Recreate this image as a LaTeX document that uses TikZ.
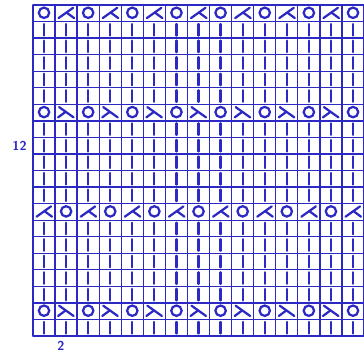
\documentclass[tikz,border=0pt]{standalone}
\usepackage{tikz}
\definecolor{chartblue}{RGB}{44,40,196}

\tikzset{
  knit/.pic={\draw[sym] (0,-5.8) -- (0,5.8);},
  yo/.pic={\draw[sym] (0,-0.5) circle[radius=5.2];},
  kl/.pic={\draw[sym] (7,-5.5) -- (-7.5,4.8); \draw[sym] (0.5,-0.7) -- (8,4.8);},
  kr/.pic={\draw[sym] (-7,-5.5) -- (7.5,4.8); \draw[sym] (-0.5,-0.7) -- (-8,4.8);}
}

\begin{document}
\begin{tikzpicture}[x=0.03cm, y=-0.03cm, line cap=round]
  \tikzstyle{gridline}=[chartblue, line width=1.1pt]
  \tikzstyle{sym}=[chartblue, line width=1.9pt]
  \tikzstyle{rowlabel}=[font=\sffamily\bfseries\fontsize{11}{12}\selectfont, text=chartblue, inner sep=0pt]
  \useasboundingbox (0,0) rectangle (364,353);
  % grid, 15 stitches x 20 rows
  \foreach \c in {0,...,15} \draw[gridline] ({33+22.07*\c},5) -- ({33+22.07*\c},336);
  \foreach \r in {0,...,20} \draw[gridline] (33,{5+16.55*\r}) -- (364,{5+16.55*\r});
  % knit rows
  \foreach \r in {1,2,3,4,5,7,8,9,10,11,13,14,15,16,17,19}
    \foreach \c in {0,...,14} \pic at ({44.03+22.07*\c},{13.28+16.55*\r}) {knit};
  % yarn overs
  \foreach \r in {0,6,18}
    \foreach \c in {0,2,...,14} \pic at ({44.03+22.07*\c},{13.28+16.55*\r}) {yo};
  \foreach \c in {1,3,...,13} \pic at ({44.03+22.07*\c},{13.28+16.55*12}) {yo};
  % decreases
  \foreach \c in {1,3,...,13} \pic at ({44.03+22.07*\c},13.28) {kl};
  \foreach \c in {0,2,...,14} \pic at ({44.03+22.07*\c},{13.28+16.55*12}) {kl};
  \foreach \r in {6,18}
    \foreach \c in {1,3,...,13} \pic at ({44.03+22.07*\c},{13.28+16.55*\r}) {kr};
  % numbers
  \node[rowlabel] (row12) at (19.5,146) {12};
  \node[rowlabel] (st2) at (61,345.5) {2};
\end{tikzpicture}
\end{document}
